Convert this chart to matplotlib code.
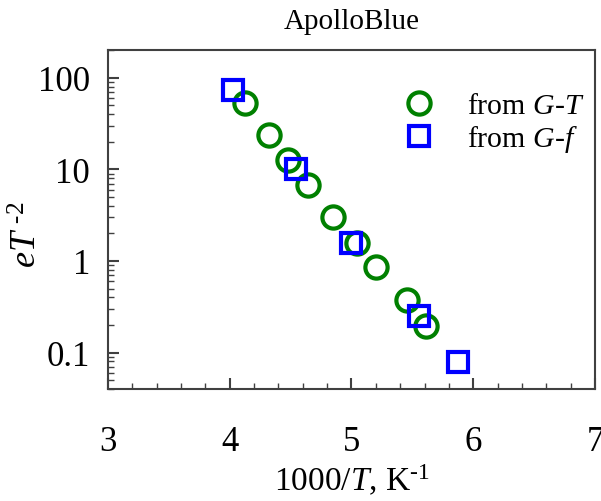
import matplotlib
matplotlib.use("Agg")
import matplotlib.pyplot as plt
from matplotlib.ticker import MultipleLocator, LogLocator, FixedLocator

# data
gt_x = [4.125, 4.322, 4.476, 4.645, 4.846, 5.043, 5.199, 5.456, 5.612]
gt_y = [53.7, 23.9, 12.7, 6.75, 2.99, 1.59, 0.85, 0.377, 0.196]
gf_x = [4.029, 4.544, 4.998, 5.554, 5.877]
gf_y = [74.0, 10.2, 1.59, 0.252, 0.078]
y_ticks = [0.1, 1, 10, 100]
y_labels = ["0.1", "1", "10", "100"]

plt.rcParams["font.family"] = "Liberation Serif"
plt.rcParams["mathtext.fontset"] = "custom"
plt.rcParams["mathtext.rm"] = "Liberation Serif"
plt.rcParams["mathtext.it"] = "Liberation Serif:italic"

fig = plt.figure(figsize=(6.01, 5.02), dpi=100)
ax = fig.add_axes([0.1797, 0.223, 0.8103, 0.675])

ax.plot(gt_x, gt_y, 'o', ms=16, mfc='none', mec='#008000', mew=3, label='from $G$-$T$')
ax.plot(gf_x, gf_y, 's', ms=15, mfc='none', mec='#0000ff', mew=3, label='from $G$-$f$')

ax.set_yscale('log')
ax.set_xlim(3, 7)
ax.set_ylim(0.04, 200)

ax.xaxis.set_major_locator(MultipleLocator(1))
ax.xaxis.set_minor_locator(MultipleLocator(0.2))
ax.yaxis.set_major_locator(FixedLocator(y_ticks))
ax.set_yticklabels(y_labels)
ax.yaxis.set_minor_locator(LogLocator(base=10, subs=range(2, 10)))
ax.yaxis.set_minor_formatter(plt.NullFormatter())

ax.tick_params(which='both', direction='in', top=False, right=False, labelsize=25, color='#404040')
ax.tick_params(which='major', length=8, width=1.5)
ax.tick_params(which='minor', length=4, width=1)
ax.tick_params(axis='x', pad=26)
ax.tick_params(axis='y', pad=13)
for s in ax.spines.values():
    s.set_color('#404040')
    s.set_linewidth(1.5)

ax.set_xlabel('1000/$T$, K$^{\\text{-1}}$', fontsize=24, labelpad=3)
ax.set_ylabel('$eT^{\\ \\text{-2}}$', fontsize=26)
ax.yaxis.set_label_coords(-0.13, 0.457)
ax.set_title('ApolloBlue', fontsize=21, pad=16)

ax.legend(loc='upper right', bbox_to_anchor=(1.022, 0.938), frameon=False, fontsize=21.5,
          handletextpad=0.87, borderaxespad=0.3, labelspacing=0.15, handlelength=1.5)

#saving the figure
fig.savefig('out.png', dpi=100)
